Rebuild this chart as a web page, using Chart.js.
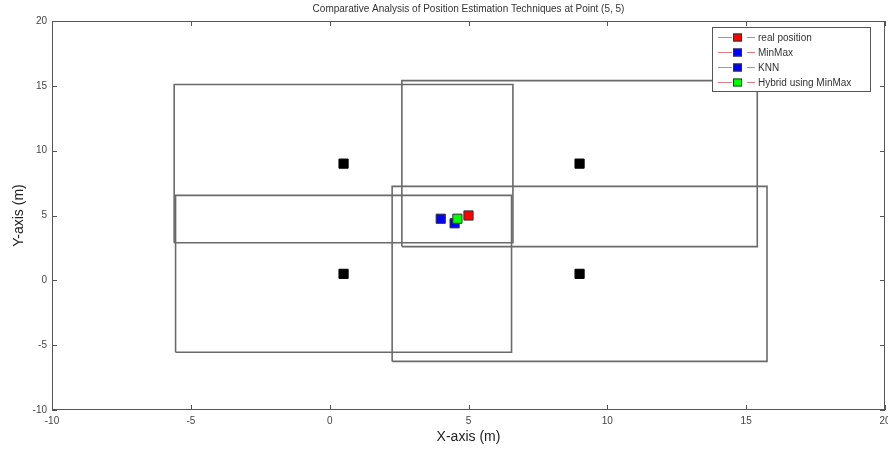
<!DOCTYPE html>
<html>
<head>
<meta charset="utf-8">
<script src="https://cdn.jsdelivr.net/npm/chart.js@4.4.1/dist/chart.umd.min.js"></script>
<style>
  html, body { margin: 0; padding: 0; background: #fff; }
  #wrap { width: 888px; height: 450px; }
</style>
</head>
<body>
<div id="wrap"><canvas id="myChart"></canvas></div>
<script>
// anchor nodes (black squares)
const anchorX = [0.5, 0.5, 9, 9];
const anchorY = [9, 0.5, 9, 0.5];

// range boxes around each anchor
const rectLeft = [-5.6, -5.55, 2.6, 2.25];
const rectRight = [6.6, 6.55, 15.4, 15.75];
const rectBottom = [2.9, -5.55, 2.6, -6.25];
const rectTop = [15.1, 6.55, 15.4, 7.25];

// estimated positions
const seriesNames = ['real position', 'MinMax', 'KNN', 'Hybrid using MinMax'];
const seriesX = [5, 4.0, 4.5, 4.6];
const seriesY = [5, 4.75, 4.4, 4.75];
const seriesColors = ['#ff0000', '#0000ff', '#0000ff', '#00ff00'];

// tick labels
const tickX = [-10, -5, 0, 5, 10, 15, 20];
const tickY = [-10, -5, 0, 5, 10, 15, 20];

const datasets = [];

// markers (order: lower = drawn on top)
const markerOrder = [3, 4, 4, 1];
seriesNames.forEach((name, i) => {
    datasets.push({
        label: name,
        data: [{ x: seriesX[i], y: seriesY[i] }],
        pointStyle: 'rect',
        pointRadius: 6.5,
        backgroundColor: seriesColors[i],
        borderColor: '#333',
        borderWidth: 1,
        showLine: false,
        order: markerOrder[i]
    });
});

datasets.push({
    label: 'anchors',
    data: anchorX.map((x, i) => ({ x: x, y: anchorY[i] })),
    pointStyle: 'rect',
    pointRadius: 6.5,
    backgroundColor: '#000',
    borderColor: '#000',
    borderWidth: 1,
    showLine: false,
    order: 6
});

rectLeft.forEach((l, i) => {
    const r = rectRight[i], b = rectBottom[i], t = rectTop[i];
    datasets.push({
        label: 'box' + i,
        data: [{ x: l, y: b }, { x: r, y: b }, { x: r, y: t }, { x: l, y: t }, { x: l, y: b }],
        showLine: true,
        borderColor: '#6a6a6a',
        borderWidth: 1.6,
        pointRadius: 0,
        fill: false,
        order: 10
    });
});

// ticks pointing inward + closed box, like matlab
const boxPlugin = {
    id: 'boxPlugin',
    afterDraw(chart) {
        const ctx = chart.ctx;
        const a = chart.chartArea;
        const xs = chart.scales.x, ys = chart.scales.y;
        ctx.save();
        ctx.strokeStyle = '#555';
        ctx.lineWidth = 1;
        ctx.strokeRect(a.left + 0.5, a.top + 0.5, a.right - a.left - 1, a.bottom - a.top - 1);
        ctx.beginPath();
        tickX.forEach(v => {
            const px = Math.round(xs.getPixelForValue(v)) + 0.5;
            ctx.moveTo(px, a.bottom); ctx.lineTo(px, a.bottom - 5);
            ctx.moveTo(px, a.top); ctx.lineTo(px, a.top + 5);
        });
        tickY.forEach(v => {
            const py = Math.round(ys.getPixelForValue(v)) + 0.5;
            ctx.moveTo(a.left, py); ctx.lineTo(a.left + 5, py);
            ctx.moveTo(a.right, py); ctx.lineTo(a.right - 5, py);
        });
        ctx.stroke();

        // legend
        const lx = 712, ly = 27, lw = 158, lh = 64;
        ctx.fillStyle = '#fff';
        ctx.fillRect(lx, ly, lw, lh);
        ctx.strokeStyle = '#555';
        ctx.strokeRect(lx + 0.5, ly + 0.5, lw, lh);
        ctx.font = '10px "Liberation Sans", Arial, sans-serif';
        ctx.textBaseline = 'middle';
        seriesNames.forEach((name, i) => {
            const yy = ly + 10.5 + i * 15;
            ctx.strokeStyle = 'rgba(215,90,100,0.8)';
            ctx.beginPath();
            ctx.moveTo(718, yy); ctx.lineTo(732, yy);
            ctx.moveTo(747, yy); ctx.lineTo(755, yy);
            ctx.stroke();
            ctx.fillStyle = seriesColors[i];
            ctx.fillRect(733, yy - 4, 9, 8);
            ctx.strokeStyle = '#333';
            ctx.strokeRect(733.5, yy - 3.5, 8, 7);
            ctx.fillStyle = '#333';
            ctx.fillText(name, 758, yy + 0.5);
        });
        ctx.restore();
    }
};

const ctx = document.getElementById('myChart').getContext('2d');
const myChart = new Chart(ctx, {
    type: 'scatter',
    data: { datasets: datasets },
    options: {
        responsive: true,
        maintainAspectRatio: false,
        animation: false,
        layout: { autoPadding: false, padding: { left: 0, right: 3, top: 0, bottom: 0 } },
        plugins: {
            legend: { display: false },
            tooltip: { enabled: false },
            title: {
                display: true,
                fullSize: false,
                text: 'Comparative Analysis of Position Estimation Techniques at Point (5, 5)',
                color: '#333',
                font: { family: '"Liberation Sans", Arial, sans-serif', size: 10, weight: 'normal' },
                padding: { top: 3, bottom: 6 }
            }
        },
        scales: {
            x: {
                type: 'linear',
                min: -10, max: 20,
                afterBuildTicks: s => { s.ticks = tickX.map(v => ({ value: v })); },
                afterFit: s => { s.height = 40; s.paddingLeft = 0; s.paddingRight = 0; },
                grid: { display: true, drawOnChartArea: false, drawTicks: false },
                border: { display: false },
                ticks: {
                    color: '#444', padding: 5, maxRotation: 0, autoSkip: false,
                    font: { family: '"Liberation Sans", Arial, sans-serif', size: 10 }
                },
                title: {
                    display: true, text: 'X-axis (m)', color: '#222',
                    font: { family: '"Liberation Sans", Arial, sans-serif', size: 14 },
                    padding: { top: 0, bottom: 4 }
                }
            },
            y: {
                type: 'linear',
                min: -10, max: 20,
                afterBuildTicks: s => { s.ticks = tickY.map(v => ({ value: v })); },
                afterFit: s => { s.width = 52; s.paddingTop = 0; s.paddingBottom = 0; },
                grid: { display: true, drawOnChartArea: false, drawTicks: false },
                border: { display: false },
                ticks: {
                    color: '#444', padding: 5, autoSkip: false,
                    font: { family: '"Liberation Sans", Arial, sans-serif', size: 10 }
                },
                title: {
                    display: true, text: 'Y-axis (m)', color: '#222',
                    font: { family: '"Liberation Sans", Arial, sans-serif', size: 14 },
                    padding: { top: 11, bottom: 0 }
                }
            }
        }
    },
    plugins: [boxPlugin]
});
</script>
</body>
</html>
